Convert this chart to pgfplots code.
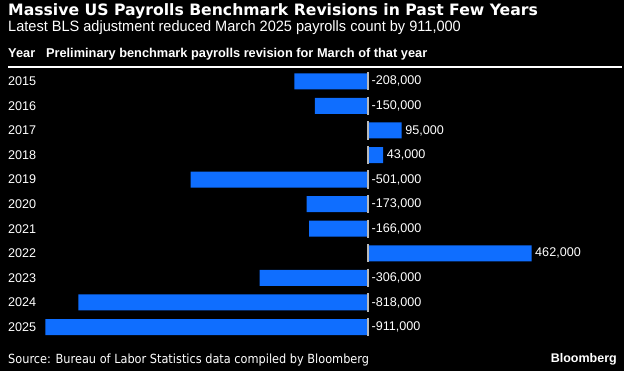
\documentclass[border=0pt]{standalone}
\usepackage{pgfplots}
\pgfplotsset{compat=1.18}
\usepackage{pgfplotstable}
\usepackage{fontspec}
\setmainfont{Liberation Sans}
\newfontfamily\titlefont{DejaVu Sans}
\newfontfamily\narrowfont[FakeStretch=0.97]{Liberation Sans}
\newfontfamily\srcfont{DejaVu Sans Condensed}
\definecolor{bbblue}{RGB}{15,110,255}
\definecolor{zline}{RGB}{185,185,185}

\pgfplotstableread{
i v
0 -208
1 -150
2 95
3 43
4 -501
5 -173
6 -166
7 462
8 -306
9 -818
10 -911
}\revisions

\pgfplotstableread{
i lx lab
0 0 -208,000
1 0 -150,000
2 95 95,000
3 43 43,000
4 0 -501,000
5 0 -173,000
6 0 -166,000
7 462 462,000
8 0 -306,000
9 0 -818,000
10 0 -911,000
}\labels

\begin{document}
\begin{tikzpicture}
\fill[black] (0,0) rectangle (624pt,371pt);
\useasboundingbox (0,0) rectangle (624pt,371pt);
\node[anchor=base west, inner sep=0pt, text=white, font=\titlefont\bfseries\fontsize{15.65}{18}\selectfont] at (8pt,355.3pt) {Massive US Payrolls Benchmark Revisions in Past Few Years};
\node[anchor=base west, inner sep=0pt, text=white, font=\narrowfont\fontsize{15}{18}\selectfont] at (8pt,339.3pt) {Latest BLS adjustment reduced March 2025 payrolls count by 911,000};
\node[anchor=base west, inner sep=0pt, text=white, font=\bfseries\fontsize{12.8}{15}\selectfont] at (8pt,313.7pt) {Year};
\node[anchor=base west, inner sep=0pt, text=white, font=\bfseries\fontsize{12.8}{15}\selectfont] at (45.8pt,313.7pt) {Preliminary benchmark payrolls revision for March of that year};
\draw[white, line width=2pt] (8pt,304.3pt) -- (621.7pt,304.3pt);
\node[anchor=base west, inner sep=0pt, text=white, font=\srcfont\fontsize{12.6}{14}\selectfont] at (8pt,7pt) {Source: Bureau of Labor Statistics data compiled by Bloomberg};
\node[anchor=base east, inner sep=0pt, text=white, font=\bfseries\fontsize{12.5}{15}\selectfont] at (617pt,8pt) {Bloomberg};
\begin{axis}[
  at={(0pt,302pt)}, anchor=north west,
  scale only axis, width=624pt, height=270.3pt,
  xmin=-1039.5, xmax=723.2, ymin=-0.5, ymax=10.5,
  y dir=reverse,
  axis line style={draw=none},
  major tick length=0pt,
  xtick=\empty,
  ytick={0,1,2,3,4,5,6,7,8,9,10},
  yticklabels={2015,2016,2017,2018,2019,2020,2021,2022,2023,2024,2025},
  yticklabel style={anchor=west, inner sep=0pt, xshift=8pt, text=white, font=\fontsize{12.6}{14}\selectfont},
  clip=false,
]
\addplot[xbar, bar width=16pt, fill=bbblue, draw=none] table[x=v, y=i] {\revisions};
\addplot[only marks, mark=|, mark size=9.2pt, mark options={draw=zline, line width=1.2pt}] table[x expr=0, y=i] {\revisions};
\addplot[draw=none, mark=none, nodes near coords, point meta=explicit symbolic,
  nodes near coords style={anchor=west, inner sep=0pt, xshift=3.5pt, text=white, font=\fontsize{12.6}{14}\selectfont}]
  table[x=lx, y=i, meta=lab] {\labels};
\end{axis}
\end{tikzpicture}
\end{document}
